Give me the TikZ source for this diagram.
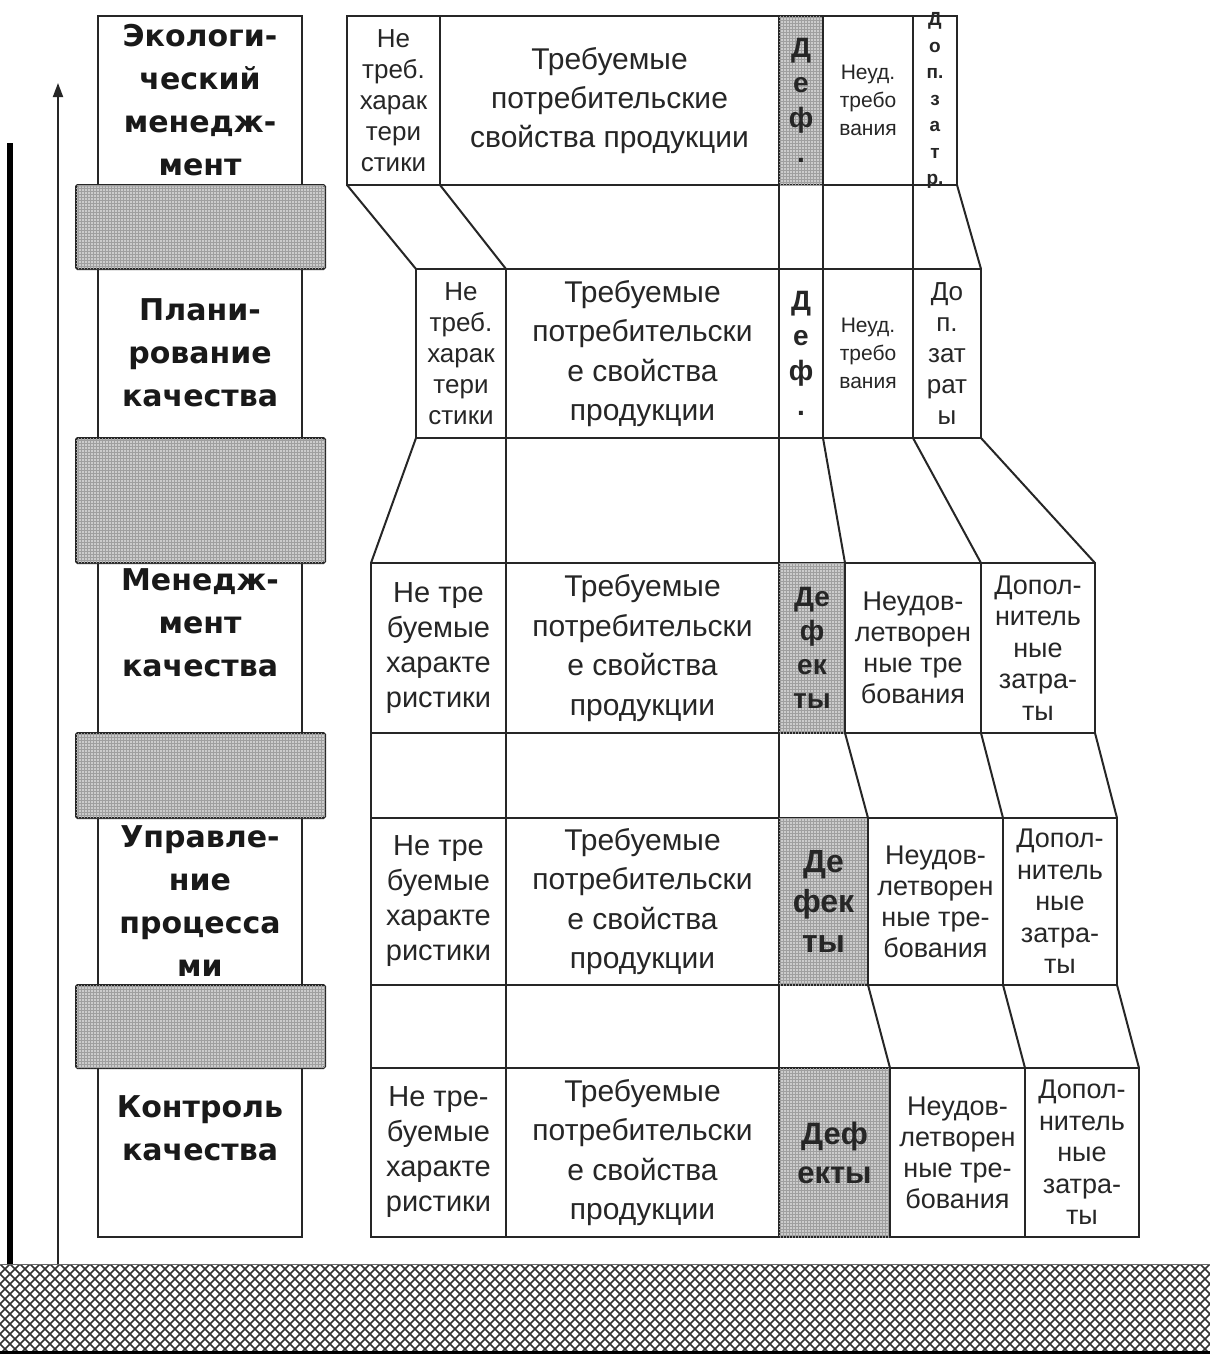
\documentclass[tikz,border=0pt]{standalone}
\usepackage{fontspec}
\setmainfont{Liberation Sans}
\newfontfamily\lblfont{DejaVu Sans}
\usetikzlibrary{patterns,arrows.meta}
\newcommand\fsz[2]{\fontsize{#1}{#2}\selectfont}
\newcommand\tcell[7]{\node[#6, minimum width={(#3-#2)*1pt}, minimum height={(#5-#4)*1pt}] (#1) at ({(#2+#3)/2},{(#4+#5)/2}) {#7};}
\begin{document}
\begin{tikzpicture}[x=1pt,y=-1pt,
  cellbox/.style={draw=black!85, line width=2pt, inner sep=0pt, outer sep=0pt, align=center, text=black!85, fill=white},
  defbox/.style={cellbox, fill=gray!40, postaction={pattern=grid, pattern color=gray!75}},
  lblbox/.style={draw=black!85, line width=2pt, inner sep=0pt, outer sep=0pt, fill=white},
  graybox/.style={draw=black!85, line width=2pt, fill=gray!40, postaction={pattern=grid, pattern color=gray!75}, rounded corners=1.5pt, inner sep=0pt, outer sep=0pt},
  lbl/.style={align=center, font=\lblfont\bfseries\fsz{30}{43}, text=black!90, inner sep=0pt},
  freetext/.style={align=center, inner sep=0pt, text=black!85},
  conn/.style={draw=black!85, line width=2pt}]
\useasboundingbox (0,0) rectangle (1210,1355);
\fill[white] (0,0) rectangle (1210,1355);

% ground hatch
\begin{scope}
\clip (0,1264) rectangle (1210,1351);
\foreach \i in {-12,...,132} {
  \draw[line width=1.5pt, black!80] ({\i*10},1264) -- ({\i*10+90},1354);
  \draw[line width=1.5pt, black!80] ({\i*10},1264) -- ({\i*10-90},1354);
}
\end{scope}
\draw[line width=1pt, black!60] (0,1264) -- (1210,1264);
\draw[line width=3pt, black] (0,1352) -- (1210,1352);

% axis lines
\coordinate (axtop) at (10,143);
\coordinate (axbot) at (10,1264);
\draw[line width=6.5pt, black] (axbot) -- (axtop);
\coordinate (arbot) at (58,1264);
\coordinate (artop) at (58,83);
\draw[line width=1.8pt, black!85, -{Triangle[length=14pt,width=10pt]}] (arbot) -- (artop);

% left column
\tcell{L1}{98}{302}{16}{185}{lblbox}{}
\tcell{L2}{98}{302}{269}{438}{lblbox}{}
\tcell{L3}{98}{302}{563}{733}{lblbox}{}
\tcell{L4}{98}{302}{818}{985}{lblbox}{}
\tcell{L5}{98}{302}{1068}{1237}{lblbox}{}
\tcell{G1}{76}{325}{185}{269}{graybox}{}
\tcell{G2}{76}{325}{438}{563}{graybox}{}
\tcell{G3}{76}{325}{733}{818}{graybox}{}
\tcell{G4}{76}{325}{985}{1068}{graybox}{}
\node[lbl] (t1) at (200,100) {Экологи-\\ческий\\менедж-\\мент};
\node[lbl] (t2) at (200,353) {Плани-\\рование\\качества};
\node[lbl] (t3) at (200,623) {Менедж-\\мент\\качества};
\node[lbl] (t4) at (200,901) {Управле-\\ние\\процесса\\ми};
\node[lbl] (t5) at (200,1128) {Контроль\\качества};

% row 1
\tcell{a1}{347}{440}{16}{185}{cellbox, font=\fsz{26}{31}}{Не\\треб.\\харак\\тери\\стики}
\tcell{a2}{440}{779}{16}{185}{cellbox, font=\fsz{30}{39}}{Требуемые\\потребительские\\свойства продукции}
\tcell{a3}{779}{823}{16}{185}{defbox, font=\bfseries\fsz{28}{35}}{Д\\е\\ф\\.}
\tcell{a4}{823}{913}{16}{185}{cellbox, font=\fsz{21}{28}}{Неуд.\\требо\\вания}
\tcell{a5}{913}{957}{16}{185}{cellbox}{}
\node[freetext, font=\bfseries\fsz{19}{26.5}] (a5t) at (a5.center) {Д\\о\\п.\\з\\а\\т\\р.};
% row 2
\tcell{b1}{416}{506}{269}{438}{cellbox, font=\fsz{26}{31}}{Не\\треб.\\харак\\тери\\стики}
\tcell{b2}{506}{779}{269}{438}{cellbox, font=\fsz{30}{39.5}}{Требуемые\\потребительски\\е свойства\\продукции}
\tcell{b3}{779}{823}{269}{438}{cellbox, font=\bfseries\fsz{28}{35}}{Д\\е\\ф\\.}
\tcell{b4}{823}{913}{269}{438}{cellbox, font=\fsz{21}{28}}{Неуд.\\требо\\вания}
\tcell{b5}{913}{981}{269}{438}{cellbox, font=\fsz{26}{31}}{До\\п.\\зат\\рат\\ы}
% row 3
\tcell{c1}{371}{506}{563}{733}{cellbox, font=\fsz{29}{35}}{Не тре\\буемые\\характе\\ристики}
\tcell{c2}{506}{779}{563}{733}{cellbox, font=\fsz{30}{39.5}}{Требуемые\\потребительски\\е свойства\\продукции}
\tcell{c3}{779}{845}{563}{733}{defbox, font=\bfseries\fsz{28}{34}}{Де\\ф\\ек\\ты}
\tcell{c4}{845}{981}{563}{733}{cellbox, font=\fsz{27}{31}}{Неудов-\\летворен\\ные тре\\бования}
\tcell{c5}{981}{1095}{563}{733}{cellbox, font=\fsz{27}{31.5}}{Допол-\\нитель\\ные\\затра-\\ты}
% row 4
\tcell{d1}{371}{506}{818}{985}{cellbox, font=\fsz{29}{35}}{Не тре\\буемые\\характе\\ристики}
\tcell{d2}{506}{779}{818}{985}{cellbox, font=\fsz{30}{39.5}}{Требуемые\\потребительски\\е свойства\\продукции}
\tcell{d3}{779}{868}{818}{985}{defbox, font=\bfseries\fsz{32}{40}}{Де\\фек\\ты}
\tcell{d4}{868}{1003}{818}{985}{cellbox, font=\fsz{27}{31}}{Неудов-\\летворен\\ные тре-\\бования}
\tcell{d5}{1003}{1117}{818}{985}{cellbox, font=\fsz{27}{31.5}}{Допол-\\нитель\\ные\\затра-\\ты}
% row 5
\tcell{e1}{371}{506}{1068}{1237}{cellbox, font=\fsz{29}{35}}{Не тре-\\буемые\\характе\\ристики}
\tcell{e2}{506}{779}{1068}{1237}{cellbox, font=\fsz{30}{39.5}}{Требуемые\\потребительски\\е свойства\\продукции}
\tcell{e3}{779}{890}{1068}{1237}{defbox, font=\bfseries\fsz{31}{39}}{Деф\\екты}
\tcell{e4}{890}{1025}{1068}{1237}{cellbox, font=\fsz{27}{31}}{Неудов-\\летворен\\ные тре-\\бования}
\tcell{e5}{1025}{1139}{1068}{1237}{cellbox, font=\fsz{27}{31.5}}{Допол-\\нитель\\ные\\затра-\\ты}

% connectors between rows
\foreach \u/\v in {a/b,b/c,c/d,d/e} {
  \foreach \k in {1,...,5} {
    \draw[conn] (\u\k.south west) -- (\v\k.north west);
  }
  \draw[conn] (\u5.south east) -- (\v5.north east);
}
\end{tikzpicture}
\end{document}
